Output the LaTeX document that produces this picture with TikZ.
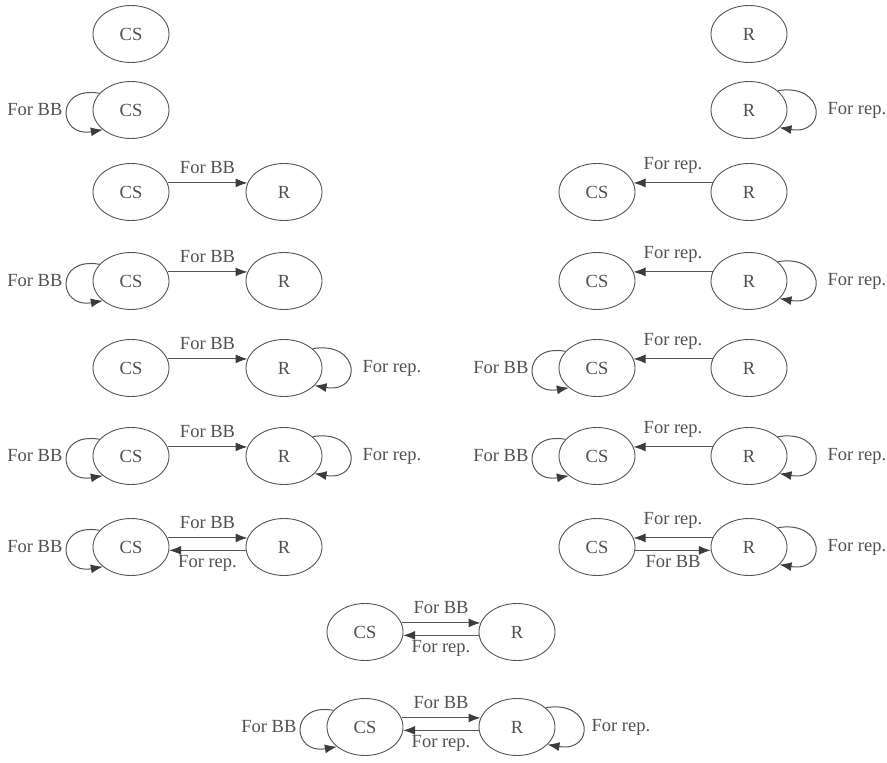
\documentclass[tikz,border=0pt]{standalone}
\usepackage{fontspec}
\setmainfont{Liberation Serif}
\usepackage{tikz}
\usetikzlibrary{arrows.meta,shapes.geometric,positioning}
\definecolor{stline}{RGB}{85,85,85}
\definecolor{sttext}{RGB}{80,80,80}
\definecolor{sttip}{RGB}{60,60,60}
\tikzstyle{state} = [ellipse, draw=stline, line width=0.9pt, minimum width=76pt, minimum height=57pt, inner sep=0pt, text=sttext]
\tikzstyle{arrow} = [line width=1pt, draw=stline, -{Latex[length=12pt,width=9pt,color=sttip]}]
\tikzstyle{lbl} = [text=sttext, inner sep=2pt]

\begin{document}
\begin{tikzpicture}[x=1pt, y=-1pt, every node/.style={font=\fontsize{18.5}{21}\selectfont}]
\useasboundingbox (0,0) rectangle (887,763);

% Left column
\node[state] (a_cs1) at (131,34) {CS};

\node[state] (a_cs2) at (131,110) {CS};
\draw[arrow] (a_cs2.152) .. controls +(-45,-8) and +(-45,8) .. (a_cs2.215);
\node[lbl, left=28pt of a_cs2] (a_l2) {For BB};

\node[state] (a_cs3) at (131,192) {CS};
\node[state] (a_r3) at (284,192) {R};
\draw[arrow] (a_cs3.14) -- node[lbl, above=7pt] (a_t3) {For BB} (a_r3.166);

\node[state] (a_cs4) at (131,281) {CS};
\node[state] (a_r4) at (284,281) {R};
\draw[arrow] (a_cs4.152) .. controls +(-45,-8) and +(-45,8) .. (a_cs4.215);
\node[lbl, left=28pt of a_cs4] (a_l4) {For BB};
\draw[arrow] (a_cs4.14) -- node[lbl, above=7pt] (a_t4) {For BB} (a_r4.166);

\node[state] (a_cs5) at (131,368) {CS};
\node[state] (a_r5) at (284,368) {R};
\draw[arrow] (a_cs5.14) -- node[lbl, above=7pt] (a_t5) {For BB} (a_r5.166);
\draw[arrow] (a_r5.34) .. controls +(48,-8) and +(48,8) .. (a_r5.330);
\node[lbl, right=38pt of a_r5] (a_m5) {For rep.};

\node[state] (a_cs6) at (131,456) {CS};
\node[state] (a_r6) at (284,456) {R};
\draw[arrow] (a_cs6.152) .. controls +(-45,-8) and +(-45,8) .. (a_cs6.215);
\node[lbl, left=28pt of a_cs6] (a_l6) {For BB};
\draw[arrow] (a_cs6.14) -- node[lbl, above=7pt] (a_t6) {For BB} (a_r6.166);
\draw[arrow] (a_r6.34) .. controls +(48,-8) and +(48,8) .. (a_r6.330);
\node[lbl, right=38pt of a_r6] (a_m6) {For rep.};

\node[state] (a_cs7) at (131,547) {CS};
\node[state] (a_r7) at (284,547) {R};
\draw[arrow] (a_cs7.152) .. controls +(-45,-8) and +(-45,8) .. (a_cs7.215);
\node[lbl, left=28pt of a_cs7] (a_l7) {For BB};
\draw[arrow] (a_cs7.14) -- node[lbl, above=7pt] (a_t7) {For BB} (a_r7.166);
\draw[arrow] (a_r7.185) -- node[lbl, below=3pt] (a_b7) {For rep.} (a_cs7.355);

% Right column
\node[state] (b_r1) at (749,34) {R};

\node[state] (b_r2) at (749,110) {R};
\draw[arrow] (b_r2.34) .. controls +(48,-8) and +(48,8) .. (b_r2.330);
\node[lbl, right=38pt of b_r2] (b_m2) {For rep.};

\node[state] (b_cs3) at (597,192) {CS};
\node[state] (b_r3) at (749,192) {R};
\draw[arrow] (b_r3.166) -- node[lbl, above=7pt] (b_t3) {For rep.} (b_cs3.14);

\node[state] (b_cs4) at (597,281) {CS};
\node[state] (b_r4) at (749,281) {R};
\draw[arrow] (b_r4.166) -- node[lbl, above=7pt] (b_t4) {For rep.} (b_cs4.14);
\draw[arrow] (b_r4.34) .. controls +(48,-8) and +(48,8) .. (b_r4.330);
\node[lbl, right=38pt of b_r4] (b_m4) {For rep.};

\node[state] (b_cs5) at (597,368) {CS};
\node[state] (b_r5) at (749,368) {R};
\draw[arrow] (b_cs5.152) .. controls +(-45,-8) and +(-45,8) .. (b_cs5.215);
\node[lbl, left=28pt of b_cs5] (b_l5) {For BB};
\draw[arrow] (b_r5.166) -- node[lbl, above=7pt] (b_t5) {For rep.} (b_cs5.14);

\node[state] (b_cs6) at (597,456) {CS};
\node[state] (b_r6) at (749,456) {R};
\draw[arrow] (b_cs6.152) .. controls +(-45,-8) and +(-45,8) .. (b_cs6.215);
\node[lbl, left=28pt of b_cs6] (b_l6) {For BB};
\draw[arrow] (b_r6.166) -- node[lbl, above=7pt] (b_t6) {For rep.} (b_cs6.14);
\draw[arrow] (b_r6.34) .. controls +(48,-8) and +(48,8) .. (b_r6.330);
\node[lbl, right=38pt of b_r6] (b_m6) {For rep.};

\node[state] (b_cs7) at (597,547) {CS};
\node[state] (b_r7) at (749,547) {R};
\draw[arrow] (b_r7.166) -- node[lbl, above=7pt] (b_t7) {For rep.} (b_cs7.14);
\draw[arrow] (b_cs7.355) -- node[lbl, below=3pt] (b_b7) {For BB} (b_r7.185);
\draw[arrow] (b_r7.34) .. controls +(48,-8) and +(48,8) .. (b_r7.330);
\node[lbl, right=38pt of b_r7] (b_m7) {For rep.};

% Bottom pair
\node[state] (c_cs8) at (365,632) {CS};
\node[state] (c_r8) at (517,632) {R};
\draw[arrow] (c_cs8.14) -- node[lbl, above=7pt] (c_t8) {For BB} (c_r8.166);
\draw[arrow] (c_r8.185) -- node[lbl, below=3pt] (c_b8) {For rep.} (c_cs8.355);

\node[state] (c_cs9) at (365,727) {CS};
\node[state] (c_r9) at (517,727) {R};
\draw[arrow] (c_cs9.152) .. controls +(-45,-8) and +(-45,8) .. (c_cs9.215);
\node[lbl, left=28pt of c_cs9] (c_l9) {For BB};
\draw[arrow] (c_cs9.14) -- node[lbl, above=7pt] (c_t9) {For BB} (c_r9.166);
\draw[arrow] (c_r9.185) -- node[lbl, below=3pt] (c_b9) {For rep.} (c_cs9.355);
\draw[arrow] (c_r9.34) .. controls +(48,-8) and +(48,8) .. (c_r9.330);
\node[lbl, right=34pt of c_r9] (c_m9) {For rep.};
\end{tikzpicture}
\end{document}
